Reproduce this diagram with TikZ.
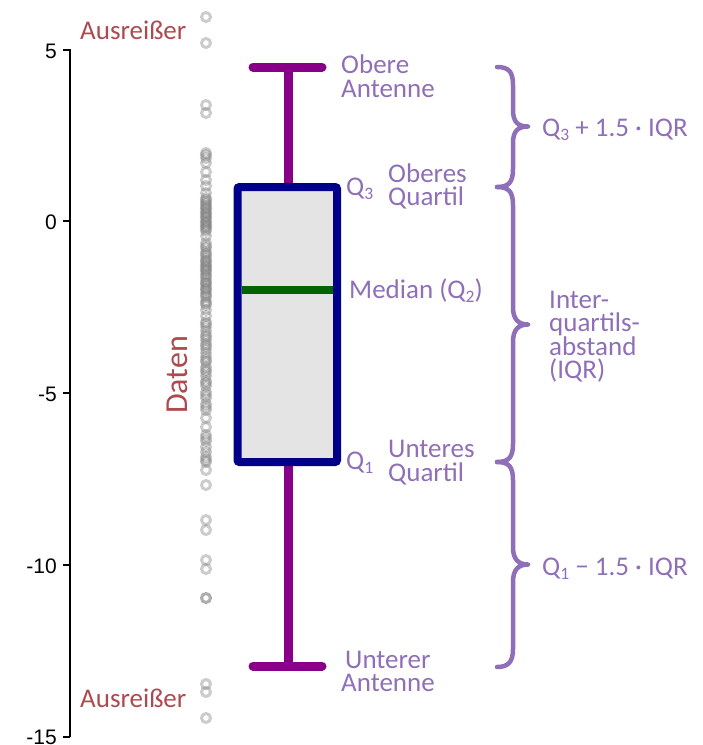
\documentclass[tikz,border=0pt]{standalone}
\usepackage{fontspec}
\setmainfont{Carlito}
\newfontfamily\axfont{Liberation Sans}
\definecolor{lav}{HTML}{8F6FB8}
\definecolor{redt}{HTML}{AD4A50}
\definecolor{whisk}{HTML}{880088}
\definecolor{boxc}{HTML}{000088}
\definecolor{medc}{HTML}{006400}
\definecolor{boxf}{HTML}{E4E4E4}
\newcommand{\subq}[1]{\raisebox{-0.17em}{\fontsize{17.5}{17.5}\selectfont #1}}
\tikzset{
  lbl/.style={font=\fontsize{27}{24}\selectfont, text=lav, inner sep=0pt, anchor=base west},
  rlbl/.style={font=\fontsize{27}{24}\selectfont, text=redt, inner sep=0pt, anchor=base west},
  ticklbl/.style={font=\axfont\fontsize{21}{21}\selectfont, inner sep=0pt, anchor=east},
  brc/.style={draw=lav, line width=4.5pt, line cap=round, line join=round},
  pt/.style={draw=black!50, line width=3pt, opacity=0.4},
}
\begin{document}
\begin{tikzpicture}[x=1pt,y=-1pt]
\useasboundingbox (0,0) rectangle (703,745);
% axis
\draw[line width=2pt] (70,49) -- (70,737);
\foreach \v/\yy in {5/50,0/221,-5/393,-10/565,-15/737}{
  \draw[line width=2pt] (63,\yy) -- (70,\yy);
}
\node[ticklbl] (t5) at (57,51) {5};
\node[ticklbl] (t0) at (57,222) {0};
\node[ticklbl] (tm5) at (57,394) {-5};
\node[ticklbl] (tm10) at (57,566) {-10};
\node[ticklbl] (tm15) at (57,737) {-15};
% data points
\foreach \yy in {17,43,105,113,153,155,158,163,172,180,186,193,198,202,206,209,212,215,218,221,224,227,231,236,243,248,252,256,259,262,265,268,271,274,278,281,284,287,290,293,297,301,305,310,316,322,327,331,335,340,344,349,353,357,362,367,372,376,381,386,392,398,404,410,418,427,435,441,447,457,462,470,485,520,530,560,569,598,598,684,692,718}{
  \draw[pt] (206,\yy) circle (4.5);
}
\foreach \yy in {200,204,208,213,217,222,226,229,246,254,261,266,270,276,283,289,295,303,324,337,346,360,370,383,395,407,438,452,460}{
  \draw[pt] (206,\yy) circle (4.5);
}
% whiskers
\draw[whisk, line width=9pt] (288,67) -- (288,187);
\draw[whisk, line width=9pt] (288,462) -- (288,666);
\draw[whisk, line width=9pt, line cap=round] (253,67) -- (322,67);
\draw[whisk, line width=9pt, line cap=round] (253,666) -- (322,666);
% box
\draw[draw=boxc, fill=boxf, line width=8pt, rounded corners=2pt] (237.5,187) rectangle (337,462);
\draw[medc, line width=8pt] (241.5,290) -- (333,290);
% braces
\draw[brc] (497,67) .. controls (509,67) and (513,72) .. (513,85) -- (513,110) .. controls (513,122) and (518,126.5) .. (528,126.5) .. controls (518,126.5) and (513,131) .. (513,143) -- (513,169) .. controls (513,182) and (509,187) .. (497,187);
\draw[brc] (497,187) .. controls (509,187) and (513,192) .. (513,205) -- (513,307) .. controls (513,319) and (518,324.5) .. (528,324.5) .. controls (518,324.5) and (513,330) .. (513,342) -- (513,444) .. controls (513,457) and (509,462) .. (497,462);
\draw[brc] (497,462) .. controls (509,462) and (513,467) .. (513,480) -- (513,547) .. controls (513,559) and (518,564.5) .. (528,564.5) .. controls (518,564.5) and (513,570) .. (513,582) -- (513,649) .. controls (513,661) and (509,667) .. (497,667);
% labels
\node[rlbl] (out1) at (80,39) {Ausreißer};
\node[rlbl] (out2) at (80,707) {Ausreißer};
\node[font=\fontsize{32}{32}\selectfont, text=redt, rotate=90, inner sep=0pt] (daten) at (177,375) {Daten};
\node[lbl] (ob1) at (341,73) {Obere};
\node[lbl] (ob2) at (341,97) {Antenne};
\node[lbl] (q3) at (346,195) {Q\subq{3}};
\node[lbl] (oq1) at (388,182) {Oberes};
\node[lbl] (oq2) at (388,205) {Quartil};
\node[lbl] (med) at (349,298) {Median (Q\subq{2})};
\node[lbl] (q1) at (346,469) {Q\subq{1}};
\node[lbl] (uq1) at (388,457) {Unteres};
\node[lbl] (uq2) at (388,481) {Quartil};
\node[lbl] (ua1) at (345,668) {Unterer};
\node[lbl] (ua2) at (341,691) {Antenne};
\node[lbl] (f1) at (542,136) {Q\subq{3} + 1.5 · IQR};
\node[lbl] (iqr1) at (549,308) {Inter-};
\node[lbl] (iqr2) at (549,331) {quartils-};
\node[lbl] (iqr3) at (549,355) {abstand};
\node[lbl] (iqr4) at (549,378) {(IQR)};
\node[lbl] (f2) at (542,575) {Q\subq{1} − 1.5 · IQR};
\end{tikzpicture}
\end{document}
